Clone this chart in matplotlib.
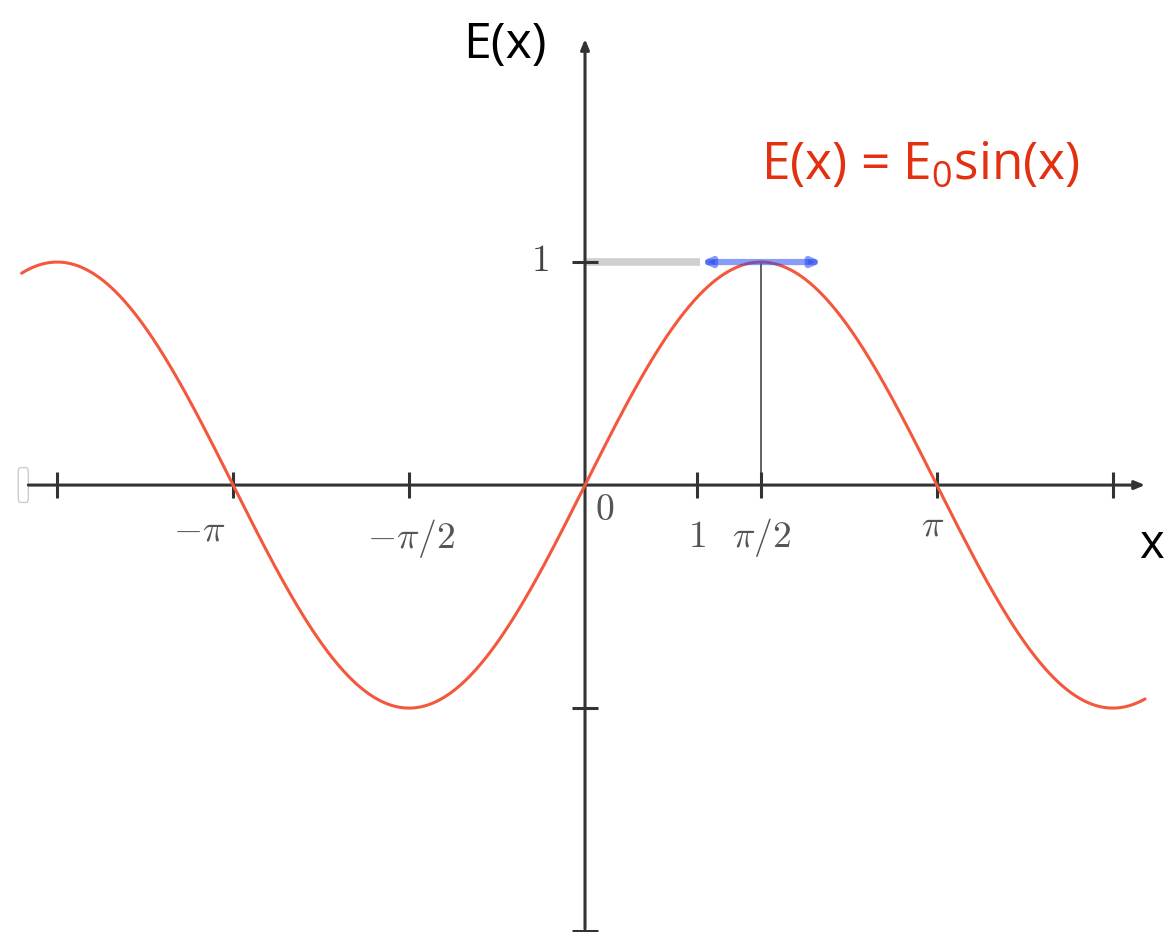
import numpy as np
import matplotlib
matplotlib.use("Agg")
import matplotlib.pyplot as plt
from matplotlib.patches import FancyBboxPatch

plt.rcParams['mathtext.fontset'] = 'custom'
plt.rcParams['mathtext.rm'] = 'Open Sans:weight=medium'
plt.rcParams['mathtext.it'] = 'Open Sans:weight=medium'
plt.rcParams['mathtext.bf'] = 'Open Sans:bold'

# data
E0 = 1.0
x_start, x_end = -5.03, 5.0
xticks = [-3*np.pi/2, -np.pi, -np.pi/2, 1, np.pi/2, np.pi, 3*np.pi/2]
xtick_labels = [r'$-\pi$', r'$-\pi/2$', r'$0$', r'$1$', r'$\pi/2$', r'$\pi$']
xtick_label_at = [-np.pi, -np.pi/2, 0, 1, np.pi/2, np.pi]
yticks = [-2, -1, 1]
ytick_labels = [r'$1$']
ytick_label_at = [1]
arrow_span = (1.03, 2.12)   # blue double arrow at E0

# pixel offsets of the tick labels
xlab_off = [(-34, -45), (2, -53), (20, -25), (0, -52), (1, -52), (-4, -40)]
ylab_off = [(-45, 1)]

fig = plt.figure(figsize=(11.68, 9.32), dpi=100)
ax = fig.add_axes([0, 0, 1, 1])
ax.set_xlim(-5.223, 5.205)
ax.set_ylim(-2.004, 2.175)
ax.axis('off')

axis_col = '#333333'
# x axis + arrow
ax.annotate('', xy=(5.0, 0), xytext=(-4.97, 0),
            arrowprops=dict(arrowstyle='-|>,head_length=0.6,head_width=0.25',
                            color=axis_col, lw=2.2, shrinkA=0, shrinkB=0))
# y axis + arrow
ax.annotate('', xy=(0, 2.0), xytext=(0, -1.99),
            arrowprops=dict(arrowstyle='-|>,head_length=0.6,head_width=0.25',
                            color=axis_col, lw=2.2, shrinkA=0, shrinkB=0))

# little box at the left end of the x axis
ax.add_patch(FancyBboxPatch((-5.06, -0.078), 0.09, 0.156,
                            boxstyle='round,pad=0,rounding_size=0.02',
                            fc='white', ec='#cccccc', lw=1))

# ticks
for t in xticks:
    ax.plot([t, t], [-0.058, 0.058], color=axis_col, lw=2.2, solid_capstyle='butt')
for t in yticks:
    ax.plot([-0.115, 0.115], [t, t], color=axis_col, lw=2.2, solid_capstyle='butt')

# tick labels
for pos, lab, off in zip(xtick_label_at, xtick_labels, xlab_off):
    ax.annotate(lab, xy=(pos, 0), xytext=off, textcoords='offset pixels',
                ha='center', va='center', fontsize=27, color='#555555',
                math_fontfamily='cm')
for pos, lab, off in zip(ytick_label_at, ytick_labels, ylab_off):
    ax.annotate(lab, xy=(0, pos), xytext=off, textcoords='offset pixels',
                ha='center', va='center', fontsize=27, color='#444444',
                math_fontfamily='cm')

# gray bar at E0 and vertical line at pi/2
ax.plot([0, arrow_span[0]], [E0, E0], color='#cfcfcf', lw=5.5,
        solid_capstyle='butt', zorder=1)
ax.plot([np.pi/2, np.pi/2], [0, E0], color='#555555', lw=1.3, zorder=1)

# the sine curve
x = np.linspace(x_start, x_end, 600)
ax.plot(x, E0*np.sin(x), color='#f4583c', lw=2.2, zorder=3,
        solid_capstyle='round')

# blue double arrow
ax.annotate('', xy=(arrow_span[1], E0), xytext=(arrow_span[0], E0),
            arrowprops=dict(arrowstyle='<|-|>,head_length=0.5,head_width=0.22',
                            color='#2a4cf0', alpha=0.55, lw=4.5,
                            shrinkA=0, shrinkB=0), zorder=4)

# texts
ax.text(-0.714, 1.973, 'E(x)', ha='center', va='center', fontsize=36,
        family='Open Sans', weight='medium', color='black')
ax.text(2.995, 1.435, r'E(x) = E$_{\mathrm{0}}$sin(x)', ha='center', va='center',
        fontsize=37, family='Open Sans', weight='medium', color='#e23010')
ax.text(5.06, -0.27, 'x', ha='center', va='center', fontsize=34,
        family='Open Sans', weight='medium', color='black')

fig.savefig('out.png', dpi=100)
